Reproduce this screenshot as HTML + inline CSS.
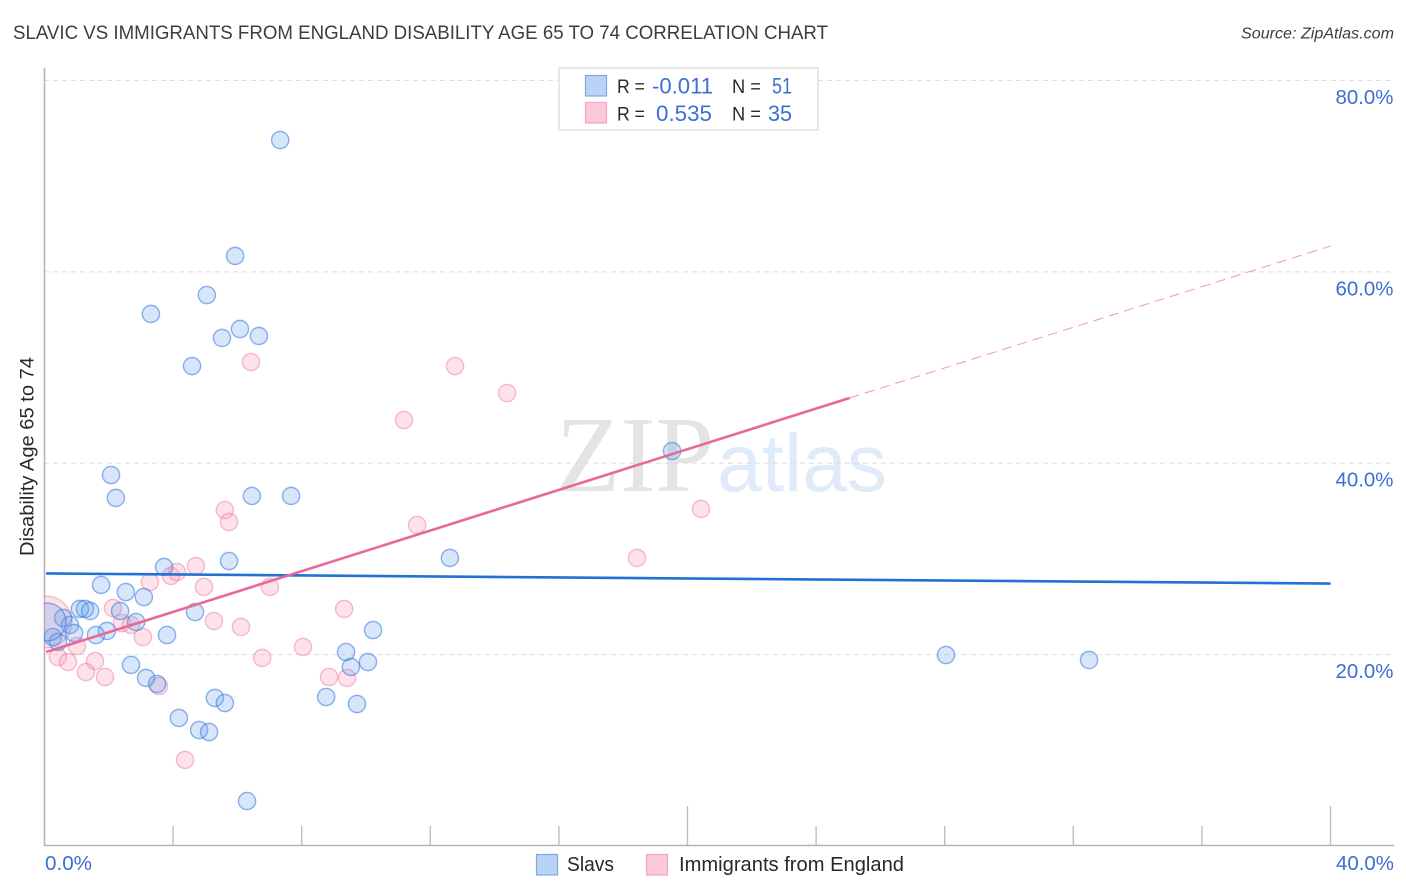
<!DOCTYPE html>
<html lang="en">
<head>
<meta charset="utf-8">
<title>Slavic vs Immigrants from England Disability Age 65 to 74 Correlation Chart</title>
<style>
html,body{margin:0;padding:0;background:#fff;width:1406px;height:892px;overflow:hidden}
svg{display:block}
text{font-family:"Liberation Sans",sans-serif}
</style>
</head>
<body>
<svg id="chart" width="1406" height="892" viewBox="0 0 1406 892" xmlns="http://www.w3.org/2000/svg">
  <defs>
    <clipPath id="plot-clip"><rect x="44" y="60" width="1350" height="786"/></clipPath>
  </defs>
  <rect x="0" y="0" width="1406" height="892" fill="#fff"/>
  <text x="13" y="39" font-size="19.5" fill="#3a3d42" textLength="815" lengthAdjust="spacingAndGlyphs">SLAVIC VS IMMIGRANTS FROM ENGLAND DISABILITY AGE 65 TO 74 CORRELATION CHART</text>
  <text x="1241" y="38.5" font-size="15.5" font-style="italic" fill="#3a3d42" textLength="153" lengthAdjust="spacingAndGlyphs">Source: ZipAtlas.com</text>
  <text transform="translate(33.5,556) rotate(-90)" font-size="19" fill="#26282c" textLength="199" lengthAdjust="spacingAndGlyphs">Disability Age 65 to 74</text>
  <g>
    <text x="556" y="491" font-size="108" fill="#e4e4e4" style="font-family:'Liberation Serif',serif" textLength="158" lengthAdjust="spacingAndGlyphs">ZIP</text>
    <text x="717" y="491" font-size="82" fill="#e0ebf9" textLength="170" lengthAdjust="spacingAndGlyphs">atlas</text>
  </g>
  <g id="grid"></g>
  <g id="axes"></g>
  <g id="points" clip-path="url(#plot-clip)"></g>
  <g id="trends"></g>
  <g id="ylabels"></g>

  <text x="45" y="870" font-size="20" fill="#3b6fd4" textLength="47" lengthAdjust="spacingAndGlyphs">0.0%</text>
  <text x="1336" y="870" font-size="20" fill="#3b6fd4" textLength="58" lengthAdjust="spacingAndGlyphs">40.0%</text>

  <g>
    <rect x="559" y="68" width="259" height="62" fill="#fff" stroke="#e0e0e0" stroke-width="1.5"/>
    <rect x="585.5" y="75.5" width="21" height="20.5" fill="#b9d3f6" stroke="#7fa8e4" stroke-width="1.2"/>
    <rect x="585.5" y="102.5" width="21" height="20.5" fill="#fcc9da" stroke="#f3a3bd" stroke-width="1.2"/>
    <text x="617" y="93" font-size="19" fill="#2a2c30" textLength="28" lengthAdjust="spacingAndGlyphs">R =</text>
    <text x="652" y="93.5" font-size="22" fill="#3b6fd4" textLength="61" lengthAdjust="spacingAndGlyphs">-0.011</text>
    <text x="732" y="93" font-size="19" fill="#2a2c30" textLength="29" lengthAdjust="spacingAndGlyphs">N =</text>
    <text x="772" y="93.5" font-size="22" fill="#3b6fd4" textLength="20" lengthAdjust="spacingAndGlyphs">51</text>
    <text x="617" y="120.5" font-size="19" fill="#2a2c30" textLength="28" lengthAdjust="spacingAndGlyphs">R =</text>
    <text x="656" y="121" font-size="22" fill="#3b6fd4" textLength="56" lengthAdjust="spacingAndGlyphs">0.535</text>
    <text x="732" y="120.5" font-size="19" fill="#2a2c30" textLength="29" lengthAdjust="spacingAndGlyphs">N =</text>
    <text x="768" y="121" font-size="22" fill="#3b6fd4" textLength="24" lengthAdjust="spacingAndGlyphs">35</text>
  </g>

  <g>
    <rect x="536.5" y="854.5" width="21" height="20.5" fill="#b9d3f6" stroke="#7fa8e4" stroke-width="1.2"/>
    <text x="567" y="871" font-size="20" fill="#26282c" textLength="47" lengthAdjust="spacingAndGlyphs">Slavs</text>
    <rect x="646.5" y="854.5" width="21" height="20.5" fill="#fcc9da" stroke="#f3a3bd" stroke-width="1.2"/>
    <text x="679" y="871" font-size="20" fill="#26282c" textLength="225" lengthAdjust="spacingAndGlyphs">Immigrants from England</text>
  </g>
</svg>
<script>
const yTicks = [20, 40, 60, 80];
const yTickLabels = ["20.0%", "40.0%", "60.0%", "80.0%"];
const xTicks = [4, 8, 12, 16, 20, 24, 28, 32, 36, 40];
const xMajorTicks = [20, 40];

const slavsX = [7.33,5.93,5.05,3.31,6.08,5.52,6.67,4.59,19.52,2.07,2.22,6.45,7.67,12.61,5.74,3.72,1.76,2.53,3.09,1.10,1.26,1.42,2.35,4.68,0.58,0.79,0.92,2.85,1.94,1.60,3.81,0.26,0.42,0.08,10.22,9.38,9.53,10.06,2.69,3.16,3.50,5.30,5.61,8.76,9.72,4.18,4.81,5.12,6.30,28.04,32.49];
const slavsY = [73.78,61.66,57.58,55.60,54.03,53.09,53.30,50.16,41.28,38.77,36.37,36.58,36.58,30.10,29.78,29.16,27.28,26.54,26.02,24.77,24.77,24.56,24.56,24.45,23.83,23.10,22.26,23.41,22.47,22.05,22.05,21.84,21.32,23.41,22.57,20.27,18.71,19.23,18.92,17.56,16.93,15.47,14.94,15.57,14.84,13.38,12.12,11.91,4.70,19.96,19.44];
const slavsSize = [1,1,1,1,1,1,1,1,1,1,1,1,1,1,1,1,1,1,1,1,1,1,1,1,1,1,1,1,1,1,1,1,1,2.2,1,1,1,1,1,1,1,1,1,1,1,1,1,1,1,1,1];

const englandX = [6.42,12.77,14.39,11.18,20.42,5.61,5.74,11.59,18.43,2.13,2.41,2.69,3.06,3.28,3.93,4.12,4.71,4.96,7.01,5.27,6.11,8.04,6.77,9.32,8.85,9.41,3.56,4.37,1.01,0.42,0.73,1.57,1.29,1.88,0.05];
const englandY = [50.58,50.16,47.34,44.52,35.22,35.11,33.86,33.55,30.10,24.87,23.30,23.10,21.84,27.59,28.22,28.63,29.26,27.07,27.07,23.51,22.89,20.80,19.65,24.77,17.66,17.56,16.72,8.99,20.90,19.75,19.23,19.33,18.18,17.66,23.41];
const englandSize = [1,1,1,1,1,1,1,1,1,1,1,1,1,1,1,1,1,1,1,1,1,1,1,1,1,1,1,1,1,1,1,1,1,1,3];

const slavsTrendX = [0.05, 40];
const slavsTrendY = [28.48, 27.43];
const englandTrendX = [0.05, 25.04];
const englandTrendY = [20.27, 46.82];
const englandExtensionX = [25.04, 40];
const englandExtensionY = [46.82, 62.7];

const NS = "http://www.w3.org/2000/svg";
function xScale(v) { return 44.5 + v * 32.15; }
function yScale(v) { return 846 - v * 9.569; }
function make(parent, tag, attrs) {
  const el = document.createElementNS(NS, tag);
  for (const k in attrs) el.setAttribute(k, attrs[k]);
  parent.appendChild(el);
  return el;
}

const grid = document.getElementById("grid");
const axes = document.getElementById("axes");
const ylabels = document.getElementById("ylabels");
const points = document.getElementById("points");
const trends = document.getElementById("trends");

yTicks.forEach(function (t, i) {
  const line = make(grid, "line", {x1: 44, x2: 1394, y1: yScale(t), y2: yScale(t), stroke: "#dedede", "stroke-width": 1, "stroke-dasharray": "5 4"});
  
  
  const label = make(ylabels, "text", {x: 1393.5, y: yScale(t) + 23.5, "font-size": 20, fill: "#3b6fd4", "text-anchor": "end", textLength: 58, lengthAdjust: "spacingAndGlyphs"});
  label.textContent = yTickLabels[i];
  
  
});

const yAxis = make(axes, "line", {x1: 44.5, x2: 44.5, y1: 68, y2: 846, stroke: "#b4b4b4", "stroke-width": 1.6});


const xAxis = make(axes, "line", {x1: 44, x2: 1394, y1: 845.5, y2: 845.5, stroke: "#b4b4b4", "stroke-width": 1.6});



xTicks.forEach(function (t) {
  const top = xMajorTicks.indexOf(t) >= 0 ? 806 : 826;
  const tick = make(axes, "line", {x1: xScale(t), x2: xScale(t), y1: top, y2: 845, stroke: "#bdbdbd", "stroke-width": 1.4});
  
  
});

englandX.forEach(function (x, i) {
  const c = make(points, "circle", {cx: xScale(x), cy: yScale(englandY[i]), r: 8.6 * englandSize[i], fill: "rgba(249,160,187,0.3)", stroke: "rgba(236,120,158,0.48)", "stroke-width": 1.4});
  
  
});

slavsX.forEach(function (x, i) {
  const c = make(points, "circle", {cx: xScale(x), cy: yScale(slavsY[i]), r: 8.6 * slavsSize[i], fill: "rgba(110,165,238,0.28)", stroke: "rgba(50,118,218,0.55)", "stroke-width": 1.4});
  
  
});

const slavsTrend = make(trends, "line", {x1: xScale(slavsTrendX[0]), x2: xScale(slavsTrendX[1]), y1: yScale(slavsTrendY[0]), y2: yScale(slavsTrendY[1]), stroke: "#2272d6", "stroke-width": 2.6});



const englandTrend = make(trends, "line", {x1: xScale(englandTrendX[0]), x2: xScale(englandTrendX[1]), y1: yScale(englandTrendY[0]), y2: yScale(englandTrendY[1]), stroke: "#e8689a", "stroke-width": 2.6});



const englandExtension = make(trends, "line", {x1: xScale(englandExtensionX[0]), x2: xScale(englandExtensionX[1]), y1: yScale(englandExtensionY[0]), y2: yScale(englandExtensionY[1]), stroke: "#e99ab6", "stroke-width": 1, "stroke-dasharray": "10 6"});


</script>
</body>
</html>
